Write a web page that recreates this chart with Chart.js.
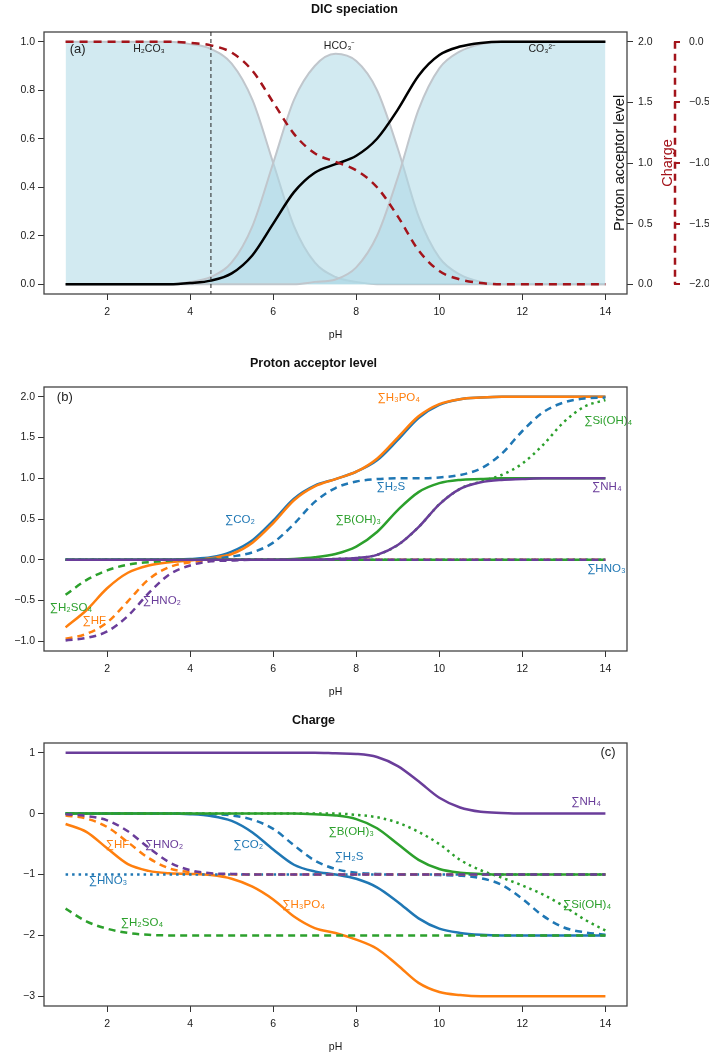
<!DOCTYPE html>
<html>
<head>
<meta charset="utf-8">
<script src="https://cdn.jsdelivr.net/npm/chart.js@4.4.1/dist/chart.umd.min.js"></script>
<style>
body { margin: 0; background: #fff; width: 709px; height: 1056px; overflow: hidden; }
canvas { display: block; }
</style>
</head>
<body>
<canvas id="c1" width="709" height="345"></canvas>
<canvas id="c2" width="709" height="355"></canvas>
<canvas id="c3" width="709" height="356"></canvas>
<script>
// pH grid shared by every curve
const ph = [1,1.5,2,2.5,3,3.5,4,4.5,5,5.5,6,6.5,7,7.5,8,8.5,9,9.5,10,10.5,11,11.5,12,12.5,13,13.5,14]
const phTicks = [2,4,6,8,10,12,14]
const refPH = 4.5

// (a) DIC speciation: fractions, proton acceptor level, charge
const h2co3 = [1,1,1,1,1,1,0.99,0.97,0.91,0.76,0.50,0.24,0.09,0.03,0.01,0,0,0,0,0,0,0,0,0,0,0,0]
const hco3  = [0,0,0,0,0,0,0.01,0.03,0.09,0.24,0.50,0.76,0.90,0.95,0.92,0.80,0.56,0.28,0.11,0.04,0.01,0,0,0,0,0,0]
const co3   = [0,0,0,0,0,0,0,0,0,0,0,0,0.01,0.02,0.07,0.20,0.44,0.72,0.89,0.96,0.99,1,1,1,1,1,1]
const dicLevel  = [0,0,0,0,0,0,0.01,0.03,0.09,0.24,0.50,0.76,0.92,0.99,1.06,1.20,1.44,1.72,1.89,1.96,1.99,2,2,2,2,2,2]
const dicCharge = [0,0,0,0,0,0,-0.01,-0.03,-0.09,-0.24,-0.50,-0.76,-0.92,-0.99,-1.06,-1.20,-1.44,-1.72,-1.89,-1.96,-1.99,-2,-2,-2,-2,-2,-2]
const yTicksA = [0,0.2,0.4,0.6,0.8,1]
const levelTicksA = [0,0.5,1,1.5,2]
const chargeTicksA = [0,-0.5,-1,-1.5,-2]

// (b) proton acceptor level
const lvCO2   = [0,0,0,0,0,0,0.01,0.03,0.10,0.24,0.48,0.75,0.91,0.99,1.08,1.22,1.47,1.74,1.90,1.97,1.99,2,2,2,2,2,2]
const lvPO4   = [-0.83,-0.62,-0.35,-0.16,-0.07,-0.03,-0.01,0.02,0.07,0.21,0.45,0.73,0.90,0.99,1.08,1.24,1.50,1.76,1.91,1.97,1.99,2,2,2,2,2,2]
const lvH2S   = [0,0,0,0,0,0,0,0.01,0.04,0.09,0.21,0.44,0.71,0.88,0.96,0.99,1,1,1.01,1.04,1.12,1.30,1.58,1.81,1.93,1.98,1.99]
const lvHNO3  = [0,0,0,0,0,0,0,0,0,0,0,0,0,0,0,0,0,0,0,0,0,0,0,0,0,0,0]
const lvHF    = [-0.97,-0.91,-0.77,-0.51,-0.24,-0.09,-0.03,-0.01,0,0,0,0,0,0,0,0,0,0,0,0,0,0,0,0,0,0,0]
const lvB     = [0,0,0,0,0,0,0,0,0,0,0,0.01,0.03,0.07,0.16,0.34,0.61,0.83,0.94,0.98,0.99,1,1,1,1,1,1]
const lvH2SO4 = [-0.43,-0.25,-0.13,-0.06,-0.03,-0.01,0,0,0,0,0,0,0,0,0,0,0,0,0,0,0,0,0,0,0,0,0]
const lvSi    = [0,0,0,0,0,0,0,0,0,0,0,0,0,0.01,0.02,0.06,0.18,0.40,0.68,0.87,0.96,1.04,1.18,1.41,1.69,1.88,1.96]
const lvNH4   = [0,0,0,0,0,0,0,0,0,0,0,0,0,0.01,0.02,0.06,0.18,0.40,0.68,0.87,0.95,0.98,0.99,1,1,1,1]
const lvHNO2  = [-0.99,-0.96,-0.88,-0.69,-0.41,-0.18,-0.07,-0.02,-0.01,0,0,0,0,0,0,0,0,0,0,0,0,0,0,0,0,0,0]
const yTicksB = [-1,-0.5,0,0.5,1,1.5,2]

// (c) charge
const chCO2   = [0,0,0,0,0,0,-0.01,-0.04,-0.12,-0.31,-0.59,-0.84,-0.95,-1.00,-1.07,-1.21,-1.45,-1.72,-1.89,-1.96,-1.99,-2,-2,-2,-2,-2,-2]
const chPO4   = [-0.17,-0.30,-0.57,-0.83,-0.94,-0.98,-0.99,-1.01,-1.07,-1.20,-1.41,-1.69,-1.88,-1.96,-2.07,-2.22,-2.49,-2.78,-2.93,-2.98,-3,-3,-3,-3,-3,-3,-3]
const chH2S   = [0,0,0,0,0,0,0,-0.01,-0.03,-0.10,-0.25,-0.52,-0.77,-0.91,-0.97,-0.99,-1,-1,-1.01,-1.02,-1.06,-1.17,-1.40,-1.68,-1.87,-1.95,-1.99]
const chHNO3  = [-1,-1,-1,-1,-1,-1,-1,-1,-1,-1,-1,-1,-1,-1,-1,-1,-1,-1,-1,-1,-1,-1,-1,-1,-1,-1,-1]
const chHF    = [-0.03,-0.08,-0.22,-0.47,-0.73,-0.90,-0.96,-0.99,-1,-1,-1,-1,-1,-1,-1,-1,-1,-1,-1,-1,-1,-1,-1,-1,-1,-1,-1]
const chB     = [0,0,0,0,0,0,0,0,0,0,0,0,-0.01,-0.03,-0.09,-0.24,-0.50,-0.76,-0.91,-0.97,-0.99,-1,-1,-1,-1,-1,-1]
const chH2SO4 = [-1.56,-1.77,-1.89,-1.96,-1.99,-2,-2,-2,-2,-2,-2,-2,-2,-2,-2,-2,-2,-2,-2,-2,-2,-2,-2,-2,-2,-2,-2]
const chSi    = [0,0,0,0,0,0,0,0,0,0,0,0,0,0,-0.02,-0.06,-0.15,-0.30,-0.50,-0.76,-0.93,-1.05,-1.18,-1.33,-1.52,-1.74,-1.92]
const chNH4   = [1,1,1,1,1,1,1,1,1,1,1,1,1,0.99,0.98,0.93,0.78,0.53,0.26,0.10,0.03,0.01,0,0,0,0,0]
const chHNO2  = [-0.01,-0.04,-0.11,-0.29,-0.56,-0.80,-0.93,-0.98,-0.99,-1,-1,-1,-1,-1,-1,-1,-1,-1,-1,-1,-1,-1,-1,-1,-1,-1,-1]
const yTicksC = [-3,-2,-1,0,1]

const blue = '#1f77b4', orange = '#ff7f0e', green = '#2ca02c', purple = '#6a3d9a', dred = '#a3141b'
const DASH = [7,5], DOT = [2.5,4]
const FONT = '"Liberation Sans", Arial, Helvetica, sans-serif'
const TICKSIZE = 10.5

Chart.defaults.font.family = FONT
Chart.defaults.color = '#222'

function pts(arr) { return ph.map((x, i) => ({x: x, y: arr[i]})) }

function line(label, arr, color, dash, axis) {
  return { label: label, data: pts(arr), borderColor: color, borderWidth: 2.5, borderDash: dash,
    pointRadius: 0, fill: false, cubicInterpolationMode: 'monotone', yAxisID: axis || 'y' }
}

function area(label, arr) {
  return { label: label, data: pts(arr), borderColor: '#c0c6cc', borderWidth: 2,
    backgroundColor: 'rgba(173,216,230,0.55)', fill: 'origin',
    pointRadius: 0, cubicInterpolationMode: 'monotone', yAxisID: 'y' }
}

// later datasets go on top, like in the original plot
function stack(sets) { sets.forEach((d, i) => d.order = -i); return sets }

const fmt1 = v => (v < 0 ? '\u2212' : '') + Math.abs(v).toFixed(1)
const fmt0 = v => (v < 0 ? '\u2212' : '') + Math.abs(v)

function xAxis(h, pb) {
  return { type: 'linear', min: 0.48, max: 14.52,
    afterFit: s => { s.height = h },
    afterBuildTicks: s => { s.ticks = phTicks.map(v => ({value: v})) },
    ticks: { font: {size: TICKSIZE}, color: '#1a1a1a', padding: 6, maxRotation: 0, callback: v => String(v) },
    grid: { drawOnChartArea: false, drawTicks: true, tickLength: 6, color: '#333' },
    border: { display: false },
    title: { display: true, text: 'pH', font: {size: 10.5}, color: '#1a1a1a', padding: {top: 0, bottom: pb} } }
}

function yAxis(pos, min, max, ticks, fmt, w, pad, tickCol) {
  return { type: 'linear', position: pos, min: min, max: max,
    afterFit: s => { s.width = w },
    afterBuildTicks: s => { s.ticks = ticks.map(v => ({value: v})) },
    ticks: { font: {size: TICKSIZE}, color: '#1a1a1a', padding: pad, callback: fmt },
    grid: { drawOnChartArea: false, drawTicks: true, tickLength: 6, color: tickCol || '#333', lineWidth: tickCol ? 2 : 1 },
    border: { display: false } }
}

function titleOpt(text, top, bottom) {
  return { display: true, text: text, font: {size: 12.5, weight: 'bold'}, color: '#111', padding: {top: top, bottom: bottom} }
}

const frame = { id: 'frame', afterDraw(c) {
  const a = c.chartArea, ctx = c.ctx
  ctx.save()
  ctx.strokeStyle = '#444'; ctx.lineWidth = 1.3
  ctx.strokeRect(a.left, a.top, a.right - a.left, a.bottom - a.top)
  ctx.restore()
}}

// text labels placed in data units
function notes(items) {
  return { id: 'notes', afterDatasetsDraw(c) {
    const ctx = c.ctx
    ctx.save()
    ctx.textBaseline = 'middle'
    items.forEach(n => {
      ctx.font = (n[5] || 11.5) + 'px ' + FONT
      ctx.fillStyle = n[3]
      ctx.textAlign = n[4] || 'left'
      ctx.fillText(n[0], c.scales.x.getPixelForValue(n[1]), c.scales.y.getPixelForValue(n[2]))
    })
    ctx.restore()
  }}
}

const extrasA = { id: 'extrasA', afterDraw(c) {
  const ctx = c.ctx, a = c.chartArea, sc = c.scales.yC
  ctx.save()
  const xr = c.scales.x.getPixelForValue(refPH)
  ctx.strokeStyle = '#222'; ctx.lineWidth = 1; ctx.setLineDash([4,3])
  ctx.beginPath(); ctx.moveTo(xr, a.top); ctx.lineTo(xr, a.bottom); ctx.stroke()
  ctx.strokeStyle = dred; ctx.lineWidth = 2.5; ctx.setLineDash([7,5])
  ctx.beginPath(); ctx.moveTo(sc.left + 1, sc.getPixelForValue(0)); ctx.lineTo(sc.left + 1, sc.getPixelForValue(-2)); ctx.stroke()
  ctx.setLineDash([])
  const mid = (a.top + a.bottom) / 2
  ctx.textAlign = 'center'; ctx.textBaseline = 'middle'
  ctx.font = '14.5px ' + FONT
  ctx.save(); ctx.translate(a.right - 7.5, mid); ctx.rotate(-Math.PI / 2)
  ctx.fillStyle = '#111'; ctx.fillText('Proton acceptor level', 0, 0); ctx.restore()
  ctx.save(); ctx.translate(sc.left - 6.5, mid); ctx.rotate(-Math.PI / 2)
  ctx.fillStyle = dred; ctx.fillText('Charge', 0, 0); ctx.restore()
  ctx.restore()
}}

const common = { responsive: false, animation: false, devicePixelRatio: 1 }

new Chart(document.getElementById('c1'), {
  type: 'line',
  data: { datasets: stack([
    area('H2CO3', h2co3), area('HCO3-', hco3), area('CO3--', co3),
    line('Proton acceptor level', dicLevel, '#000', [], 'yP'),
    line('Charge', dicCharge, dred, [8,6], 'yC')
  ]) },
  options: Object.assign({}, common, {
    plugins: { title: titleOpt('DIC speciation', 2.5, 14.5), legend: {display: false}, tooltip: {enabled: false} },
    scales: {
      x: xAxis(51, 3.5),
      y: yAxis('left', -0.04, 1.04, yTicksA, fmt1, 44, 3),
      yP: yAxis('right', -0.08, 2.08, levelTicksA, fmt1, 47, 5),
      yC: yAxis('right', -2.08, 0.08, chargeTicksA, fmt1, 35, 9, dred)
    }
  }),
  plugins: [frame, extrasA, notes([
    ['(a)', 1.10, 0.97, '#222', 'left', 13],
    ['H\u2082CO\u2083', 3.01, 0.97, '#222', 'center', 10.5],
    ['HCO\u2083\u207B', 7.60, 0.98, '#222', 'center', 10.5],
    ['CO\u2083\u00B2\u207B', 12.48, 0.97, '#222', 'center', 10.5]
  ])]
})

new Chart(document.getElementById('c2'), {
  type: 'line',
  data: { datasets: stack([
    line('CO2', lvCO2, blue, []), line('H3PO4', lvPO4, orange, []),
    line('H2S', lvH2S, blue, DASH), line('HNO3', lvHNO3, blue, DOT),
    line('HF', lvHF, orange, DASH), line('B(OH)3', lvB, green, []),
    line('H2SO4', lvH2SO4, green, DASH), line('Si(OH)4', lvSi, green, DOT),
    line('NH4', lvNH4, purple, []), line('HNO2', lvHNO2, purple, DASH)
  ]) },
  options: Object.assign({}, common, {
    layout: { padding: {right: 82} },
    plugins: { title: titleOpt('Proton acceptor level', 11.5, 15.5), legend: {display: false}, tooltip: {enabled: false} },
    scales: { x: xAxis(49, 1.5), y: yAxis('left', -1.12, 2.12, yTicksB, fmt1, 44, 3) }
  }),
  plugins: [frame, notes([
    ['(b)', 0.79, 1.99, '#222', 'left', 13],
    ['\u2211H\u2083PO\u2084', 8.51, 1.99, orange],
    ['\u2211Si(OH)\u2084', 13.49, 1.71, green],
    ['\u2211H\u2082S', 8.49, 0.89, blue],
    ['\u2211NH\u2084', 13.68, 0.89, purple],
    ['\u2211CO\u2082', 4.84, 0.49, blue],
    ['\u2211B(OH)\u2083', 7.50, 0.49, green],
    ['\u2211HNO\u2083', 13.56, -0.11, blue],
    ['\u2211HNO\u2082', 2.86, -0.51, purple],
    ['\u2211H\u2082SO\u2084', 0.62, -0.59, green],
    ['\u2211HF', 1.41, -0.75, orange]
  ])]
})

new Chart(document.getElementById('c3'), {
  type: 'line',
  data: { datasets: stack([
    line('CO2', chCO2, blue, []), line('H3PO4', chPO4, orange, []),
    line('H2S', chH2S, blue, DASH), line('HNO3', chHNO3, blue, DOT),
    line('HF', chHF, orange, DASH), line('B(OH)3', chB, green, []),
    line('H2SO4', chH2SO4, green, DASH), line('Si(OH)4', chSi, green, DOT),
    line('NH4', chNH4, purple, []), line('HNO2', chHNO2, purple, DASH)
  ]) },
  options: Object.assign({}, common, {
    layout: { padding: {right: 82} },
    plugins: { title: titleOpt('Charge', 13.5, 14.5), legend: {display: false}, tooltip: {enabled: false} },
    scales: { x: xAxis(50, 2.5), y: yAxis('left', -3.16, 1.16, yTicksC, fmt0, 44, 3) }
  }),
  plugins: [frame, notes([
    ['(c)', 13.88, 1.0, '#222', 'left', 13],
    ['\u2211NH\u2084', 13.18, 0.19, purple],
    ['\u2211B(OH)\u2083', 7.33, -0.30, green],
    ['\u2211HF', 1.97, -0.51, orange],
    ['\u2211HNO\u2082', 2.91, -0.51, purple],
    ['\u2211CO\u2082', 5.04, -0.51, blue],
    ['\u2211H\u2082S', 7.48, -0.71, blue],
    ['\u2211HNO\u2083', 1.56, -1.11, blue],
    ['\u2211H\u2083PO\u2084', 6.22, -1.50, orange],
    ['\u2211Si(OH)\u2084', 12.98, -1.50, green],
    ['\u2211H\u2082SO\u2084', 2.33, -1.80, green]
  ])]
})
</script>
</body>
</html>
